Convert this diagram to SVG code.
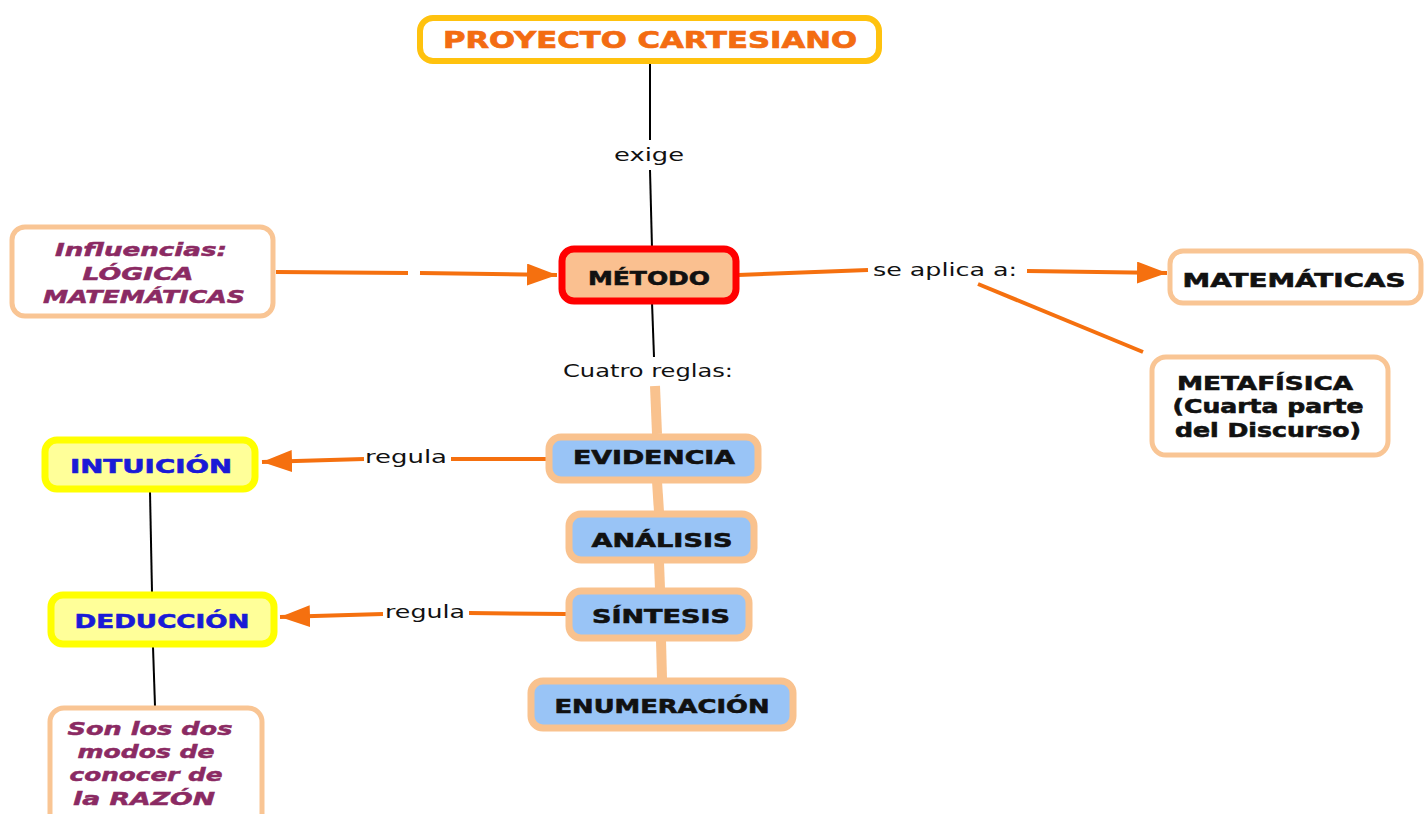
<svg xmlns="http://www.w3.org/2000/svg" width="1424" height="814" viewBox="0 0 1424 814">
<style>
text{font-family:"DejaVu Sans","Verdana",sans-serif;text-anchor:middle}
.b{font-weight:bold;font-size:19px;fill:#111;stroke:#111;stroke-width:0.6}
.p{font-weight:bold;font-style:italic;font-size:18px;fill:#8B2A63;stroke:#8B2A63;stroke-width:0.5}
.bl{font-weight:bold;font-size:19px;fill:#1A1AD6;stroke:#1A1AD6;stroke-width:0.6}
.lbl{font-size:18px;fill:#111}
.peach{fill:#fff;stroke:#F9C594;stroke-width:5}
.rule{fill:#99C4F6;stroke:#F9C28E;stroke-width:7}
.yel{fill:#FFFF99;stroke:#FFFF00;stroke-width:7}
.or{stroke:#F5700F;stroke-width:4;fill:none}
.bk{stroke:#000;stroke-width:2;fill:none}
.pc{stroke:#F9C28E;stroke-width:10;fill:none}
</style>
<defs>
<marker id="ah" markerUnits="userSpaceOnUse" markerWidth="32" markerHeight="24" refX="30" refY="11" orient="auto">
<path d="M0,0 L30,11 L0,22 z" fill="#F5700F"/>
</marker>
</defs>
<rect width="1424" height="814" fill="#fff"/>
<g id="connectors">
<line class="bk" x1="650" y1="63" x2="650" y2="140"/>
<line class="bk" x1="650" y1="170" x2="652" y2="248"/>
<text class="lbl" x="649" y="161" textLength="70" lengthAdjust="spacingAndGlyphs">exige</text>
<line class="or" x1="276" y1="272" x2="408" y2="273"/>
<line class="or" x1="420" y1="273" x2="557" y2="275" marker-end="url(#ah)"/>
<line class="or" x1="738" y1="275" x2="868" y2="270"/>
<text class="lbl" x="945" y="276" textLength="144" lengthAdjust="spacingAndGlyphs">se aplica a:</text>
<line class="or" x1="1027" y1="271" x2="1167" y2="273" marker-end="url(#ah)"/>
<line class="or" x1="978" y1="284" x2="1143" y2="352"/>
<line class="bk" x1="652" y1="302" x2="654" y2="357"/>
<text class="lbl" x="648" y="377" textLength="170" lengthAdjust="spacingAndGlyphs">Cuatro reglas:</text>
<line class="pc" x1="655" y1="386" x2="657" y2="434"/>
<line class="pc" x1="657" y1="481" x2="659" y2="512"/>
<line class="pc" x1="659" y1="562" x2="660" y2="589"/>
<line class="pc" x1="661" y1="640" x2="662" y2="679"/>
<line class="or" x1="546" y1="459" x2="451" y2="459"/>
<text class="lbl" x="406" y="463" textLength="82" lengthAdjust="spacingAndGlyphs">regula</text>
<line class="or" x1="364" y1="459" x2="262" y2="462" marker-end="url(#ah)"/>
<line class="or" x1="566" y1="614" x2="469" y2="613"/>
<text class="lbl" x="425" y="618" textLength="80" lengthAdjust="spacingAndGlyphs">regula</text>
<line class="or" x1="383" y1="614" x2="280" y2="617" marker-end="url(#ah)"/>
<line class="bk" x1="150" y1="492" x2="152" y2="592"/>
<line class="bk" x1="153" y1="647" x2="155" y2="706"/>
</g>
<g id="proyecto">
<rect x="420" y="18" width="459" height="43" rx="13" fill="#fff" stroke="#FFC20E" stroke-width="6"/>
<text x="650" y="48" font-size="23" font-weight="bold" fill="#F36C12" stroke="#F36C12" stroke-width="0.7" textLength="414" lengthAdjust="spacingAndGlyphs">PROYECTO CARTESIANO</text>
</g>
<g id="influencias">
<rect class="peach" x="12" y="227" width="261" height="89" rx="13"/>
<text class="p" x="141" y="256" textLength="172" lengthAdjust="spacingAndGlyphs">Influencias:</text>
<text class="p" x="138" y="280" textLength="111" lengthAdjust="spacingAndGlyphs">LÓGICA</text>
<text class="p" x="144" y="303" textLength="202" lengthAdjust="spacingAndGlyphs">MATEMÁTICAS</text>
</g>
<g id="metodo">
<rect x="562" y="249" width="174" height="52" rx="12" fill="#FAC090" stroke="#FF0000" stroke-width="7"/>
<text class="b" x="649" y="285" textLength="122" lengthAdjust="spacingAndGlyphs">MÉTODO</text>
</g>
<g id="matematicas">
<rect class="peach" x="1170" y="251" width="251" height="52" rx="13"/>
<text class="b" x="1294" y="287" textLength="223" lengthAdjust="spacingAndGlyphs">MATEMÁTICAS</text>
</g>
<g id="metafisica">
<rect class="peach" x="1152" y="357" width="236" height="98" rx="14"/>
<text class="b" x="1265" y="390" textLength="176" lengthAdjust="spacingAndGlyphs">METAFÍSICA</text>
<text class="b" x="1268" y="413" textLength="191" lengthAdjust="spacingAndGlyphs">(Cuarta parte</text>
<text class="b" x="1268" y="437" textLength="186" lengthAdjust="spacingAndGlyphs">del Discurso)</text>
</g>
<g id="evidencia">
<rect class="rule" x="549" y="437" width="209" height="43" rx="12"/>
<text class="b" x="654" y="464" textLength="162" lengthAdjust="spacingAndGlyphs">EVIDENCIA</text>
</g>
<g id="analisis">
<rect class="rule" x="569" y="514" width="185" height="46" rx="12"/>
<text class="b" x="662" y="547" textLength="141" lengthAdjust="spacingAndGlyphs">ANÁLISIS</text>
</g>
<g id="sintesis">
<rect class="rule" x="569" y="591" width="180" height="47" rx="12"/>
<text class="b" x="661" y="623" textLength="138" lengthAdjust="spacingAndGlyphs">SÍNTESIS</text>
</g>
<g id="enumeracion">
<rect class="rule" x="531" y="681" width="262" height="47" rx="12"/>
<text class="b" x="662" y="713" textLength="215" lengthAdjust="spacingAndGlyphs">ENUMERACIÓN</text>
</g>
<g id="intuicion">
<rect class="yel" x="45" y="440" width="210" height="49" rx="12"/>
<text class="bl" x="151" y="473" textLength="162" lengthAdjust="spacingAndGlyphs">INTUICIÓN</text>
</g>
<g id="deduccion">
<rect class="yel" x="51" y="595" width="223" height="49" rx="12"/>
<text class="bl" x="162" y="628" textLength="175" lengthAdjust="spacingAndGlyphs">DEDUCCIÓN</text>
</g>
<g id="razon">
<rect class="peach" x="50" y="708" width="212" height="120" rx="14"/>
<text class="p" x="150" y="735" textLength="165" lengthAdjust="spacingAndGlyphs">Son los dos</text>
<text class="p" x="146" y="758" textLength="137" lengthAdjust="spacingAndGlyphs">modos de</text>
<text class="p" x="146" y="781" textLength="153" lengthAdjust="spacingAndGlyphs">conocer de</text>
<text class="p" x="144" y="805" textLength="142" lengthAdjust="spacingAndGlyphs">la RAZÓN</text>
</g>
</svg>
